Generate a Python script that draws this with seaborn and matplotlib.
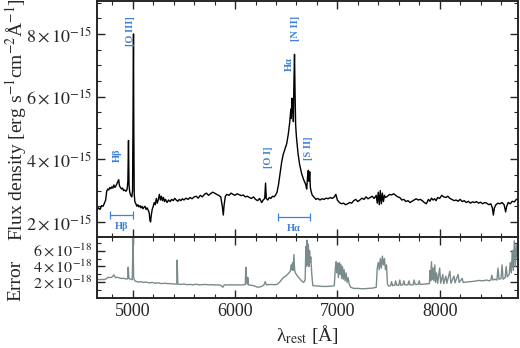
import numpy as np
import pandas as pd
import seaborn as sns
import matplotlib
matplotlib.use('Agg')
import matplotlib.pyplot as plt
from matplotlib.ticker import MultipleLocator, FixedLocator, FuncFormatter

# spectrum: (rest wavelength [A], flux [1e-15 erg/s/cm2/A])
spec_pts = [
    (4650, 2.38), (4665, 2.45), (4680, 2.40), (4695, 2.52), (4710, 2.50), (4725, 2.62),
    (4735, 2.70), (4745, 2.98), (4755, 3.05), (4765, 3.02), (4775, 3.10), (4785, 3.06),
    (4795, 3.12), (4805, 3.08), (4815, 3.18), (4825, 3.10), (4835, 3.15), (4845, 3.22),
    (4855, 3.30), (4862, 3.35), (4870, 3.15), (4880, 3.10), (4890, 3.05), (4900, 3.08),
    (4910, 3.00), (4920, 3.02), (4935, 2.98), (4945, 3.05), (4952, 3.30), (4958, 4.60),
    (4963, 3.20), (4970, 2.95), (4980, 2.85), (4990, 2.80), (4998, 3.00), (5004, 6.50),
    (5007, 8.00), (5010, 5.00), (5014, 2.90), (5020, 2.65), (5030, 2.58), (5040, 2.50),
    (5050, 2.55), (5060, 2.48), (5070, 2.52), (5080, 2.45), (5090, 2.50), (5100, 2.42),
    (5110, 2.47), (5120, 2.50), (5130, 2.40), (5140, 2.45), (5150, 2.38), (5160, 2.30),
    (5168, 2.05), (5174, 2.00), (5180, 2.20), (5190, 2.40), (5200, 2.50), (5210, 2.62),
    (5220, 2.55), (5230, 2.75), (5240, 2.60), (5250, 2.72), (5260, 2.88), (5270, 2.70),
    (5280, 2.82), (5290, 2.68), (5300, 2.78), (5310, 2.65), (5320, 2.72), (5335, 2.62),
    (5350, 2.70), (5365, 2.65), (5380, 2.72), (5395, 2.68), (5410, 2.75), (5425, 2.70),
    (5440, 2.66), (5455, 2.72), (5470, 2.68), (5485, 2.74), (5500, 2.70), (5520, 2.76),
    (5540, 2.72), (5560, 2.78), (5580, 2.74), (5600, 2.80), (5620, 2.82), (5640, 2.76),
    (5660, 2.85), (5680, 2.80), (5700, 2.88), (5720, 2.92), (5740, 2.85), (5760, 2.90),
    (5780, 2.95), (5800, 2.92), (5820, 2.88), (5840, 2.85), (5860, 2.80), (5875, 2.50),
    (5885, 2.22), (5893, 2.55), (5905, 2.82), (5920, 2.88), (5940, 2.85), (5960, 2.92),
    (5980, 2.88), (6000, 2.85), (6020, 2.90), (6040, 2.87), (6060, 2.84), (6080, 2.86),
    (6100, 2.80), (6120, 2.82), (6140, 2.78), (6160, 2.75), (6180, 2.80), (6200, 2.72),
    (6220, 2.68), (6240, 2.75), (6260, 2.62), (6275, 2.70), (6290, 2.75), (6298, 3.24),
    (6305, 2.75), (6320, 2.70), (6335, 2.78), (6350, 2.75), (6365, 2.82), (6380, 2.80),
    (6395, 2.85), (6410, 2.95), (6425, 3.20), (6440, 3.55), (6455, 3.90), (6470, 4.15),
    (6490, 4.35), (6505, 4.50), (6520, 4.80), (6535, 5.20), (6545, 5.60), (6550, 5.30),
    (6555, 5.95), (6560, 5.50), (6565, 5.80), (6570, 5.20), (6575, 6.40), (6581, 7.35),
    (6586, 6.20), (6592, 5.10), (6600, 4.70), (6615, 4.20), (6630, 3.85), (6650, 3.55),
    (6670, 3.35), (6690, 3.20), (6700, 3.05), (6710, 3.50), (6716, 3.65), (6722, 3.30),
    (6730, 3.60), (6736, 3.10), (6745, 2.95), (6755, 2.85), (6770, 2.80), (6790, 2.72),
    (6810, 2.75), (6830, 2.70), (6850, 2.74), (6870, 2.72), (6890, 2.76), (6910, 2.74),
    (6930, 2.78), (6950, 2.75), (6970, 2.80), (6985, 2.88), (7000, 2.70), (7020, 2.62),
    (7040, 2.58), (7060, 2.60), (7080, 2.55), (7100, 2.58), (7120, 2.62), (7140, 2.60),
    (7160, 2.68), (7180, 2.72), (7200, 2.65), (7220, 2.70), (7240, 2.76), (7260, 2.72),
    (7280, 2.80), (7300, 2.74), (7320, 2.78), (7340, 2.82), (7360, 2.75), (7380, 2.85),
    (7390, 2.60), (7400, 2.95), (7410, 2.55), (7420, 3.00), (7430, 2.58), (7440, 2.92),
    (7450, 2.65), (7460, 2.85), (7470, 2.78), (7490, 2.82), (7510, 2.88), (7530, 2.86),
    (7550, 2.90), (7570, 2.85), (7590, 2.80), (7610, 2.78), (7630, 2.70), (7650, 2.72),
    (7670, 2.65), (7690, 2.68), (7710, 2.62), (7730, 2.66), (7750, 2.70), (7770, 2.74),
    (7790, 2.70), (7810, 2.72), (7830, 2.68), (7850, 2.62), (7870, 2.58), (7890, 2.72),
    (7905, 2.66), (7920, 2.76), (7935, 2.70), (7950, 2.74), (7965, 2.68), (7980, 2.78),
    (8000, 2.75), (8020, 2.85), (8040, 2.80), (8060, 2.78), (8080, 2.82), (8100, 2.75),
    (8120, 2.72), (8140, 2.68), (8160, 2.70), (8180, 2.66), (8200, 2.72), (8220, 2.65),
    (8240, 2.68), (8260, 2.62), (8280, 2.66), (8300, 2.60), (8320, 2.64), (8340, 2.62),
    (8360, 2.65), (8380, 2.60), (8400, 2.63), (8420, 2.58), (8440, 2.62), (8460, 2.60),
    (8480, 2.55), (8500, 2.58), (8515, 2.45), (8525, 2.22), (8535, 2.45), (8550, 2.55),
    (8570, 2.60), (8590, 2.58), (8610, 2.62), (8630, 2.55), (8645, 2.32), (8655, 2.50),
    (8670, 2.62), (8690, 2.58), (8710, 2.66), (8730, 2.64), (8750, 2.72), (8765, 2.74),
]

# error spectrum: (rest wavelength [A], error [1e-18])
err_pts = [
    (4650, 2.40), (4680, 2.35), (4700, 2.38), (4720, 2.35), (4740, 2.45), (4760, 2.65),
    (4780, 2.60), (4800, 2.70), (4815, 2.95), (4830, 2.60), (4850, 2.65), (4870, 2.55),
    (4890, 2.50), (4910, 2.52), (4930, 2.45), (4950, 2.45), (4955, 3.90), (4962, 2.50),
    (4980, 2.40), (4995, 2.35), (5003, 7.80), (5008, 2.60), (5020, 2.20), (5050, 2.05),
    (5080, 2.10), (5100, 2.00), (5130, 2.05), (5160, 1.95), (5190, 2.00), (5220, 1.90),
    (5250, 1.95), (5280, 1.85), (5310, 1.90), (5340, 1.85), (5370, 1.85), (5400, 1.80),
    (5430, 1.80), (5434, 4.80), (5440, 1.80), (5470, 1.75), (5500, 1.80), (5530, 1.72),
    (5560, 1.75), (5590, 1.70), (5620, 1.78), (5650, 1.70), (5680, 1.72), (5710, 1.75),
    (5740, 1.70), (5770, 1.72), (5800, 1.68), (5830, 1.70), (5860, 1.65), (5880, 1.40),
    (5895, 1.70), (5930, 1.68), (5960, 1.70), (5990, 1.68), (6020, 1.70), (6050, 1.68),
    (6080, 1.70), (6100, 1.75), (6105, 3.90), (6110, 2.00), (6115, 2.70), (6120, 1.80),
    (6125, 2.60), (6130, 1.70), (6160, 1.65), (6190, 1.55), (6220, 1.40), (6250, 1.45),
    (6280, 1.65), (6295, 2.10), (6305, 1.70), (6340, 1.75), (6380, 1.72), (6410, 1.75),
    (6440, 2.10), (6470, 2.60), (6500, 2.85), (6520, 3.10), (6540, 3.40), (6550, 4.20),
    (6556, 3.60), (6562, 4.50), (6568, 3.50), (6575, 5.50), (6582, 3.60), (6590, 3.20),
    (6610, 2.80), (6630, 2.50), (6650, 2.20), (6670, 2.00), (6685, 2.30), (6692, 6.50),
    (6698, 4.00), (6704, 7.30), (6710, 4.20), (6716, 6.80), (6722, 4.00), (6728, 6.00),
    (6734, 4.50), (6740, 5.20), (6750, 3.00), (6760, 1.60), (6800, 1.55), (6850, 1.50),
    (6900, 1.50), (6950, 1.55), (6970, 1.60), (6980, 3.80), (6988, 4.60), (6995, 3.20),
    (7002, 4.40), (7010, 2.60), (7018, 4.50), (7026, 3.00), (7034, 4.30), (7042, 2.50),
    (7050, 4.00), (7058, 2.40), (7066, 3.60), (7075, 2.20), (7085, 3.20), (7095, 2.00),
    (7105, 2.60), (7115, 1.80), (7130, 1.40), (7160, 1.25), (7200, 1.25), (7250, 1.20),
    (7300, 1.25), (7350, 1.30), (7380, 1.40), (7390, 3.80), (7400, 4.50), (7410, 3.60),
    (7420, 5.00), (7430, 3.80), (7440, 5.30), (7450, 4.20), (7460, 5.00), (7470, 3.60),
    (7480, 4.20), (7490, 1.80), (7500, 1.55), (7520, 1.60), (7530, 2.10), (7540, 1.60),
    (7560, 1.65), (7570, 2.20), (7580, 1.65), (7600, 1.65), (7610, 2.30), (7620, 1.65),
    (7640, 1.70), (7650, 2.20), (7660, 1.70), (7690, 1.70), (7700, 2.20), (7710, 1.70),
    (7740, 1.70), (7750, 2.30), (7760, 1.75), (7790, 1.75), (7800, 2.20), (7810, 1.75),
    (7850, 1.80), (7900, 1.85), (7905, 3.50), (7912, 2.20), (7920, 4.60), (7928, 2.40),
    (7936, 3.80), (7944, 2.20), (7952, 4.20), (7960, 2.00), (7970, 3.20), (7980, 1.90),
    (8000, 3.80), (8010, 1.90), (8030, 3.00), (8040, 1.85), (8060, 2.80), (8070, 1.90),
    (8100, 3.40), (8110, 1.90), (8140, 2.80), (8150, 1.95), (8180, 3.00), (8190, 2.00),
    (8220, 2.50), (8230, 2.00), (8260, 2.05), (8300, 2.10), (8340, 2.15), (8380, 2.25),
    (8420, 2.20), (8460, 2.30), (8480, 2.20), (8500, 2.30), (8510, 2.90), (8520, 2.30),
    (8540, 2.40), (8560, 2.30), (8570, 3.80), (8580, 2.40), (8600, 2.50), (8610, 4.20),
    (8620, 2.40), (8640, 2.60), (8650, 4.00), (8660, 2.70), (8680, 3.00), (8690, 4.50),
    (8700, 3.20), (8710, 6.00), (8720, 3.50), (8730, 7.20), (8740, 4.00), (8750, 6.80),
    (8760, 5.00),
]

# line labels: text, wavelength, flux (1e-15)
line_labels = ['[O III]', 'Hβ', '[O I]', 'Hα', '[N II]', '[S II]']
line_wave = [4975, 4846, 6326, 6532, 6595, 6718]
line_flux = [8.1, 4.13, 4.06, 7.05, 8.16, 4.35]

# continuum windows: label, centre, half width, flux (1e-15)
win_labels = ['Hβ', 'Hα']
win_centre = [4890, 6576]
win_half = [113, 152]
win_flux = [2.22, 2.16]

spec_wave, spec_flux = zip(*spec_pts)
err_wave, err_val = zip(*err_pts)
df_spec = pd.DataFrame({'wave': spec_wave, 'flux': np.array(spec_flux) * 1e-15})
df_err = pd.DataFrame({'wave': err_wave, 'err': np.array(err_val) * 1e-18})

sns.set_style('ticks')
plt.rcParams['font.family'] = ['Liberation Serif', 'DejaVu Serif']
plt.rcParams['mathtext.fontset'] = 'stix'

blue = '#3f82d8'

fig = plt.figure(figsize=(5.2, 3.48), dpi=100)
ax1 = fig.add_axes([0.1865, 0.319, 0.8095, 0.678])
ax2 = fig.add_axes([0.1865, 0.1437, 0.8095, 0.1753])

sns.lineplot(data=df_spec, x='wave', y='flux', ax=ax1, color='black', lw=1.0,
             sort=False, estimator=None)
sns.lineplot(data=df_err, x='wave', y='err', ax=ax2, color='#7b8a8a', lw=1.0,
             sort=False, estimator=None)


def sci(v, pos):
    if v <= 0:
        return ''
    e = int(np.floor(np.log10(v) + 1e-9))
    m = int(round(v / 10**e))
    return r'$%d\times10^{%d}$' % (m, e)


for ax in (ax1, ax2):
    ax.set_xlim(4650, 8765)
    ax.xaxis.set_major_locator(MultipleLocator(1000))
    ax.xaxis.set_minor_locator(MultipleLocator(200))
    ax.tick_params(which='both', direction='in', top=True, right=True, labelsize=13)
    ax.tick_params(which='major', length=6, width=1)
    ax.tick_params(which='minor', length=3, width=0.8)
    ax.yaxis.set_major_formatter(FuncFormatter(sci))
    ax.set_xlabel('')
    ax.set_ylabel('')
    for s in ax.spines.values():
        s.set_linewidth(1.4)

ax1.set_ylim(1.52e-15, 9.05e-15)
ax1.yaxis.set_major_locator(FixedLocator([2e-15, 4e-15, 6e-15, 8e-15]))
ax1.yaxis.set_minor_locator(MultipleLocator(0.5e-15))
ax1.tick_params(labelbottom=False)

ax2.set_ylim(0.05e-18, 7.7e-18)
ax2.yaxis.set_major_locator(FixedLocator([2e-18, 4e-18, 6e-18]))
ax2.yaxis.set_minor_locator(MultipleLocator(1e-18))
ax2.tick_params(axis='y', labelsize=11.5, pad=3)
ax2.set_xlabel('λ$_{\\rm rest}$ [Å]', fontsize=14, labelpad=2)

for lab, w, f in zip(line_labels, line_wave, line_flux):
    ax1.text(w, f * 1e-15, lab, rotation=90, color=blue, fontsize=7.5,
             fontweight='bold', ha='center', va='center')

for lab, c, h, f in zip(win_labels, win_centre, win_half, win_flux):
    ax1.errorbar(c, f * 1e-15, xerr=h, color=blue, lw=0.9, capsize=3, capthick=0.9)
    ax1.text(c, (f - 0.37) * 1e-15, lab, color=blue, fontsize=7.5,
             fontweight='bold', ha='center', va='center')

fig.text(0.03, 0.655, 'Flux density [erg s$^{-1}$cm$^{-2}$Å$^{-1}$]', rotation=90,
         ha='center', va='center', fontsize=14)
fig.text(0.03, 0.195, 'Error', rotation=90, ha='center', va='center', fontsize=14)

fig.savefig('out.png', dpi=100)
plt.close(fig)
